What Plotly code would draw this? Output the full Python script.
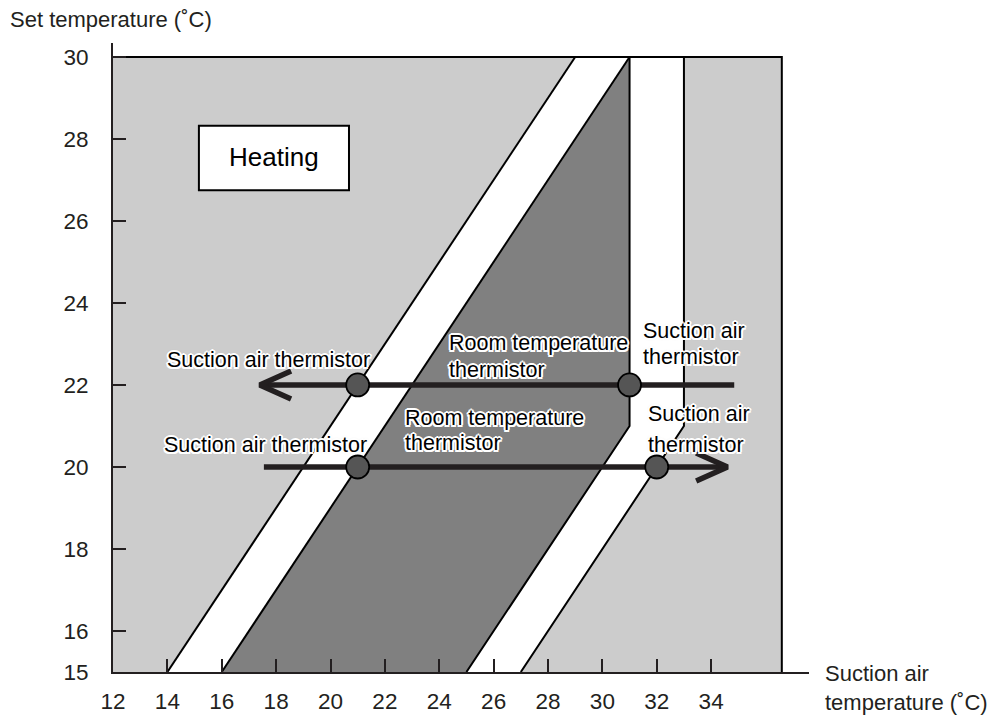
import plotly.graph_objects as go

# Axis ticks
x_ticks = [12, 14, 16, 18, 20, 22, 24, 26, 28, 30, 32, 34]
y_ticks = [15, 16, 18, 20, 22, 24, 26, 28, 30]

# Chart frame (suction air temperature x set temperature)
frame_x = [12, 36.6]
frame_y = [15, 30]

# Band corners (suction air temperature, set temperature)
band1_x = [14, 16, 31, 29]
band1_y = [15, 15, 30, 30]
room_x = [16, 25, 31, 31]
room_y = [15, 15, 21, 30]
band2_x = [25, 27, 33, 33, 31, 31]
band2_y = [15, 15, 21, 30, 30, 21]

# Switching points
pts_x = [21, 31, 21, 32]
pts_y = [22, 22, 20, 20]

# Arrows: start, tip, set temperature
arrow_up = (34.85, 17.4, 22)
arrow_dn = (17.55, 34.6, 20)

LIGHT = "#cccccc"
DARK = "#808080"
INK = "#231f20"
FONT = "Liberation Sans, Arial, Helvetica, sans-serif"

fig = go.Figure()

# background of the chart area
fig.add_trace(go.Scatter(
    x=[frame_x[0], frame_x[1], frame_x[1], frame_x[0]],
    y=[frame_y[0], frame_y[0], frame_y[1], frame_y[1]],
    fill="toself", fillcolor=LIGHT, mode="lines", line=dict(width=0),
    hoverinfo="skip", showlegend=False))

for bx, by, col in [(band1_x, band1_y, "white"), (room_x, room_y, DARK),
                    (band2_x, band2_y, "white")]:
    fig.add_trace(go.Scatter(x=bx, y=by, fill="toself", fillcolor=col,
                             mode="lines", line=dict(width=0),
                             hoverinfo="skip", showlegend=False))

# band boundaries
edges = [
    ([band1_x[0], band1_x[3]], [band1_y[0], band1_y[3]]),
    ([band1_x[1], band1_x[2]], [band1_y[1], band1_y[2]]),
    ([room_x[1], room_x[2], room_x[3]], [room_y[1], room_y[2], room_y[3]]),
    ([band2_x[1], band2_x[2], band2_x[3]], [band2_y[1], band2_y[2], band2_y[3]]),
    ([frame_x[0], frame_x[1], frame_x[1]], [frame_y[1], frame_y[1], frame_y[0]]),
]
for ex, ey in edges:
    fig.add_trace(go.Scatter(x=ex, y=ey, mode="lines",
                             line=dict(color="black", width=2),
                             hoverinfo="skip", showlegend=False))

# arrows with open chevron heads
head_dx, head_dy = 1.15, 0.34
for x0, tip, yv in [arrow_up, arrow_dn]:
    d = 1 if tip > x0 else -1
    fig.add_trace(go.Scatter(x=[x0, tip], y=[yv, yv], mode="lines",
                             line=dict(color=INK, width=5.5),
                             hoverinfo="skip", showlegend=False))
    fig.add_trace(go.Scatter(
        x=[tip - d * head_dx, tip, tip - d * head_dx],
        y=[yv + head_dy, yv, yv - head_dy], mode="lines",
        line=dict(color=INK, width=5.5), hoverinfo="skip", showlegend=False))

fig.add_trace(go.Scatter(
    x=pts_x, y=pts_y, mode="markers",
    marker=dict(size=23, color="#555555", line=dict(color="black", width=1.8)),
    hoverinfo="skip", showlegend=False))

halo = ("white 2px 0px 0px, white -2px 0px 0px, white 0px 2px 0px, white 0px -2px 0px, "
        "white 1.5px 1.5px 0px, white -1.5px 1.5px 0px, white 1.5px -1.5px 0px, "
        "white -1.5px -1.5px 0px, rgba(0,0,0,0.25) 0px 0px 3px")

labels = [
    ("Suction air thermistor", 13.91, 22.61),
    ("Suction air thermistor", 13.8, 20.54),
    ("Room temperature", 24.28, 23.02),
    ("thermistor", 24.28, 22.37),
    ("Room temperature", 22.66, 21.20),
    ("thermistor", 22.66, 20.59),
    ("Suction air", 31.42, 23.32),
    ("thermistor", 31.42, 22.68),
    ("Suction air", 31.6, 21.29),
    ("thermistor", 31.6, 20.54),
]
annotations = []
for txt, ax, ay in labels:
    annotations.append(dict(
        text=txt, x=ax, y=ay, xref="x", yref="y", xanchor="left",
        yanchor="middle", showarrow=False,
        font=dict(family=FONT, size=21.5, color="black", shadow=halo)))

annotations.append(dict(text="Heating", x=17.92, y=27.55, xref="x", yref="y",
                        showarrow=False,
                        font=dict(family=FONT, size=26, color="black")))

annotations.append(dict(text="Set temperature (˚C)", x=-0.151, y=1.038,
                        xref="paper", yref="paper", xanchor="left",
                        yanchor="middle", showarrow=False,
                        font=dict(family=FONT, size=22, color=INK)))
annotations.append(dict(text="Suction air", x=1.02, y=-0.002,
                        xref="paper", yref="paper", xanchor="left",
                        yanchor="middle", showarrow=False,
                        font=dict(family=FONT, size=22, color=INK)))
annotations.append(dict(text="temperature (˚C)", x=1.02, y=-0.048,
                        xref="paper", yref="paper", xanchor="left",
                        yanchor="middle", showarrow=False,
                        font=dict(family=FONT, size=22, color=INK)))

fig.update_layout(
    width=993, height=715,
    margin=dict(l=113, r=184, t=43, b=43),
    paper_bgcolor="white", plot_bgcolor="white",
    showlegend=False,
    annotations=annotations,
    shapes=[dict(type="rect", xref="x", yref="y", x0=15.16, x1=20.68,
                 y0=26.75, y1=28.32, fillcolor="white",
                 line=dict(color="black", width=2), layer="above")],
)
fig.update_xaxes(range=[12, 37.6], showgrid=False, zeroline=False,
                 automargin=False,
                 showline=True, linecolor=INK, linewidth=2,
                 ticks="inside", ticklen=13, tickwidth=2, tickcolor=INK,
                 tickvals=x_ticks, ticklabelstandoff=8,
                 tickfont=dict(family=FONT, size=22.5, color=INK))
fig.update_yaxes(range=[15, 30.34], showgrid=False, zeroline=False,
                 automargin=False,
                 showline=True, linecolor=INK, linewidth=2,
                 ticks="inside", ticklen=13, tickwidth=2, tickcolor=INK,
                 tickvals=y_ticks, ticklabelstandoff=18,
                 tickfont=dict(family=FONT, size=22.5, color=INK))

fig.write_html("out.html")
